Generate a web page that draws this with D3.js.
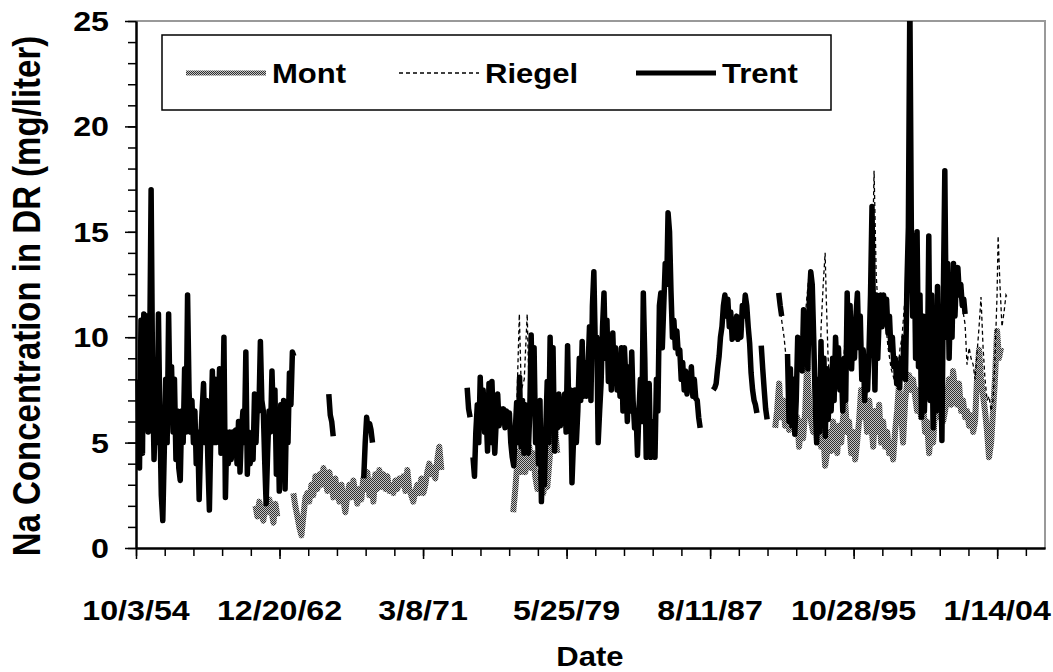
<!DOCTYPE html>
<html>
<head>
<meta charset="utf-8">
<script src="https://cdnjs.cloudflare.com/ajax/libs/d3/7.8.5/d3.min.js"></script>
<style>
  body { margin: 0; background: #fff; }
  text { font-family: "Liberation Sans", Arial, sans-serif; font-weight: bold; fill: #000; }
</style>
</head>
<body>
<svg width="1053" height="672"></svg>
<script>
// x axis tick labels (Excel date axis, 3000 day major unit)
var tickLabels = ["10/3/54", "12/20/62", "3/8/71", "5/25/79", "8/11/87", "10/28/95", "1/14/04"];
var yTicks = [0, 5, 10, 15, 20, 25];
var seriesNames = ["Mont", "Riegel", "Trent"];

// Mont and Riegel: [decimal year, Na mg/l], null = gap in record
var mont = [
  [1961.59,2.0],[1961.70,1.5],[1961.81,2.2],[1961.93,1.6],[1962.04,1.3],[1962.16,2.0],[1962.27,1.7],[1962.39,2.3],[1962.50,1.8],[1962.62,1.2],[1962.73,2.1],[1962.84,1.5],
  null,
  [1963.76,2.6],[1963.87,2.0],[1963.99,1.5],[1964.10,1.0],[1964.22,0.6],[1964.33,1.5],[1964.45,2.4],[1964.56,2.6],[1964.67,2.2],[1964.79,3.0],[1964.90,2.5],[1965.02,3.4],
  [1965.13,2.8],[1965.25,3.5],[1965.36,3.0],[1965.48,3.8],[1965.59,3.2],[1965.70,2.7],[1965.82,3.6],[1965.93,3.0],[1966.05,2.4],[1966.16,3.3],[1966.28,2.6],[1966.39,2.2],
  [1966.51,3.0],[1966.62,2.3],[1966.73,1.7],[1966.85,2.5],[1966.96,3.0],[1967.08,2.4],[1967.19,3.2],[1967.31,2.6],[1967.42,2.1],[1967.53,2.8],[1967.65,2.3],[1967.76,3.3],
  [1967.88,2.8],[1967.99,3.6],[1968.11,2.5],[1968.22,3.2],[1968.34,2.2],[1968.45,3.5],[1968.56,2.8],[1968.68,3.7],[1968.79,2.9],[1968.91,3.5],[1969.02,2.8],[1969.14,3.4],
  [1969.25,2.7],[1969.37,3.0],[1969.48,2.6],[1969.59,3.2],[1969.71,2.8],[1969.82,3.3],[1969.94,3.0],[1970.05,3.4],[1970.17,2.7],[1970.28,3.7],[1970.39,2.8],[1970.51,2.5],
  [1970.62,2.2],[1970.74,2.7],[1970.85,3.0],[1970.97,2.6],[1971.08,3.3],[1971.20,2.6],[1971.31,3.0],[1971.42,3.6],[1971.54,4.0],[1971.65,3.5],[1971.77,3.8],[1971.88,3.3],
  [1972.00,4.2],[1972.11,4.8],[1972.23,3.7],
  null,
  [1976.34,1.7],[1976.46,2.8],[1976.57,4.0],[1976.69,4.6],[1976.80,3.6],[1976.92,4.4],[1977.03,3.6],[1977.14,4.2],[1977.26,4.8],[1977.37,3.8],[1977.49,4.5],[1977.60,3.4],
  [1977.72,2.8],[1977.83,3.5],[1977.95,3.0],[1978.06,2.6],[1978.17,3.2],[1978.29,2.9],[1978.40,4.0],[1978.52,5.2],[1978.63,6.4],[1978.75,5.5],[1978.86,4.5],
  null,
  [1991.33,5.7],[1991.44,6.5],[1991.56,7.8],[1991.67,6.2],[1991.79,7.0],[1991.90,5.8],[1992.02,6.5],[1992.13,5.6],[1992.25,7.0],[1992.36,6.0],[1992.47,5.5],[1992.59,6.2],
  [1992.70,4.8],[1992.82,6.0],[1992.93,5.2],[1993.05,6.5],[1993.16,8.8],[1993.27,7.0],[1993.39,6.0],[1993.50,5.5],[1993.62,6.5],[1993.73,5.0],[1993.85,6.0],[1993.96,4.8],
  [1994.08,5.5],[1994.19,3.9],[1994.30,4.5],[1994.42,5.5],[1994.53,4.6],[1994.65,6.0],[1994.76,5.2],[1994.88,4.5],[1994.99,5.8],[1995.11,5.0],[1995.22,6.2],[1995.33,7.0],
  [1995.45,5.5],[1995.56,6.0],[1995.68,4.5],[1995.79,5.5],[1995.91,4.2],[1996.02,5.0],[1996.13,6.0],[1996.25,7.5],[1996.36,6.2],[1996.48,6.8],[1996.59,5.5],[1996.71,7.0],
  [1996.82,6.0],[1996.94,4.8],[1997.05,6.5],[1997.16,5.5],[1997.28,6.8],[1997.39,5.0],[1997.51,6.0],[1997.62,4.8],[1997.74,5.5],[1997.85,4.5],[1997.97,5.0],[1998.08,4.2],
  [1998.19,5.5],[1998.31,6.5],[1998.42,7.8],[1998.54,6.5],[1998.65,5.0],[1998.77,7.0],[1998.88,7.8],[1999.00,8.2],[1999.11,7.5],[1999.22,8.0],[1999.34,7.2],[1999.45,6.5],
  [1999.57,7.5],[1999.68,6.2],[1999.80,6.8],[1999.91,5.5],[2000.02,6.0],[2000.14,4.5],[2000.25,5.5],[2000.37,5.0],[2000.48,6.5],[2000.60,7.5],[2000.71,6.2],[2000.83,7.0],
  [2000.94,6.0],[2001.05,6.5],[2001.17,7.2],[2001.28,8.0],[2001.40,6.8],[2001.51,8.4],[2001.63,7.5],[2001.74,6.8],[2001.85,7.8],[2001.97,6.5],[2002.08,7.0],[2002.20,6.2],
  [2002.31,6.5],[2002.43,5.8],[2002.54,6.3],[2002.66,5.5],[2002.77,6.0],[2002.88,8.0],[2003.00,9.4],[2003.11,8.0],[2003.23,7.2],[2003.34,6.5],[2003.46,5.5],[2003.57,4.3],
  [2003.69,5.0],[2003.80,6.5],[2003.91,8.0],[2004.03,10.3],[2004.14,9.0],[2004.26,9.5]
];

var riegel = [
  [1976.34,4.5],[1976.52,6.0],[1976.69,11.1],[1976.80,7.5],[1976.97,8.0],[1977.14,11.1],[1977.26,7.0],[1977.43,9.0],[1977.66,6.0],[1977.83,3.0],
  null,
  [1991.50,11.8],[1991.67,11.0],[1991.84,10.0],[1991.96,9.0],[1992.07,8.6],[1992.19,7.0],[1992.36,6.0],[1992.53,7.5],[1992.70,9.0],[1992.87,10.0],[1993.05,11.0],[1993.16,12.0],
  [1993.27,13.0],[1993.39,12.0],[1993.50,10.5],[1993.68,8.0],[1993.85,7.0],[1993.96,10.5],[1994.08,12.5],[1994.19,14.0],[1994.25,12.0],[1994.36,9.0],[1994.53,7.0],[1994.70,9.5],
  [1994.88,9.0],[1995.05,7.5],[1995.22,8.5],[1995.45,11.5],[1995.62,10.0],[1995.79,9.0],[1996.02,11.5],[1996.19,9.5],[1996.36,8.0],[1996.54,7.5],[1996.71,9.5],[1996.88,13.0],
  [1996.99,17.9],[1997.11,13.0],[1997.28,10.5],[1997.45,11.5],[1997.62,11.0],[1997.79,9.5],[1997.97,8.5],[1998.14,8.0],[1998.31,8.0],[1998.48,9.5],[1998.59,10.0],[1998.77,12.0],
  [1999.05,14.5],[1999.28,13.5],[1999.51,10.0],[1999.74,8.0],[1999.97,9.5],[2000.20,11.0],[2000.42,8.0],[2000.65,10.0],[2000.88,8.0],[2001.11,14.0],[2001.34,11.0],[2001.57,12.5],
  [2001.80,12.5],[2002.03,11.5],[2002.20,10.6],[2002.31,8.7],[2002.43,9.5],[2002.54,9.0],[2002.66,8.7],[2002.77,8.0],[2002.88,9.2],[2003.00,10.5],[2003.11,11.9],[2003.23,9.5],
  [2003.34,8.0],[2003.46,7.0],[2003.57,7.2],[2003.69,6.5],[2003.80,7.0],[2003.91,9.0],[2004.03,12.0],[2004.09,14.8],[2004.20,12.4],[2004.31,10.5],[2004.43,11.2],[2004.54,12.0],
  [2004.66,11.8]
];

// Trent: monthly samples, one block per unbroken run of record
var trentRuns = [
  {start: "1954-11", values: [
    8.0,3.8,10.8,4.5,11.1,6.0, 11.0,5.5,9.0,17.0,8.0,4.2, 6.5,5.0,11.1,6.0,2.5,1.3, 4.5,8.0,5.0,11.1,6.5,8.6,
    5.5,8.0,4.2,6.5,3.8,3.2, 6.5,5.0,8.5,5.5,12.0,7.5, 5.5,7.0,5.0,6.5,4.0,5.5, 2.3,5.0,6.5,7.8,5.0,7.0,
    4.0,1.8,5.5,8.4,5.0,8.0, 5.0,5.8,8.5,4.5,6.0,10.0, 2.4,5.5,4.0,5.5,4.2,5.5, 4.5,5.6,4.0,6.0,3.6,5.5,
    6.5,5.0,9.3,3.5,5.5,4.0, 5.2,4.2,7.3,5.0,7.0,6.5, 9.8,7.0,6.5,4.0,2.1,4.5, 6.5,5.5,8.4,6.0,7.5,3.5,
    6.5,2.7,6.8,4.0,7.0,2.8, 6.5,5.0,8.3,6.8,9.3,9.1]},
  {start: "1965-10", values: [7.3,6.3,6.0,5.3]},
  {start: "1967-10", values: [3.3,5.0,6.2,5.6,5.9,5.6,5.0]},
  {start: "1973-09", values: [7.6,6.6,6.2]},
  {start: "1974-01", values: [
    4.3,3.4,5.5,6.8,5.0, 8.1,6.0,7.5,5.5,6.5, 4.6,7.8,5.0,7.9,6.0, 4.5,6.0,7.3,5.8,6.6,
    6.0,6.6,5.7,6.5,5.8, 6.4,5.0,4.3,3.9,5.5, 6.9,5.0,8.1,4.8,7.0, 4.5,6.8,5.5,4.5,6.4,
    10.1,6.5,9.5,5.0,6.0, 4.0,7.0,2.2,4.5,3.0, 5.5,7.9,5.0,10.0,6.0, 9.5,4.6,6.0,5.7,7.3,
    5.8,7.0,6.0,7.3,5.5, 9.6,6.0,7.5,3.1,5.0, 7.5,5.0,6.5,9.0,7.0, 9.8,7.2,8.8,7.2,8.5,
    10.5,7.0,11.5,13.1,9.5, 10.0,5.0,6.5,7.8,10.5, 12.1,9.0,10.8,7.9,9.5, 7.5,10.2,8.0,9.5,7.5,
    8.5,7.2,9.5,6.5,9.5, 8.0,6.0,8.6,6.5,9.3, 7.0,5.7,6.5,4.4,6.5, 8.0,6.0,12.1,9.0,4.3,
    6.5,7.8,4.3,6.0,5.5, 4.3,8.0,6.5,11.5,12.1, 9.5,11.5,13.5,12.5,15.9, 15.0,12.2,10.0,10.8,9.5,
    10.3,9.2,9.4,8.0,8.8, 7.5,8.4,7.3,8.2,7.6, 8.6,7.2,8.0,7.1,7.0, 6.2,5.7]},
  {start: "1987-10", values: [
    7.5,7.6,7.8,8.5,9.1, 10.0,10.5,11.5,12.0,11.0, 11.8,10.5,11.2,9.9,10.8, 10.0,11.0,9.9,10.5,10.0,
    11.5,11.0,12.0,11.5,10.5, 9.7,8.3,7.5,7.0,6.8, 6.4]},
  {start: "1990-07", values: [9.6,8.5,7.5,6.6,6.1]},
  {start: "1991-07", values: [12.1,11.5,11.0]},
  {start: "1992-01", values: [
    9.2,6.0,8.5,5.8,8.0, 5.4,7.0,10.0,8.5,9.5, 8.4,11.3,9.0,10.5,8.5, 11.8,13.1,12.5,10.0,7.0,
    5.0,8.0,5.5,9.8,6.0, 9.0,5.3,8.5,6.1,8.0, 6.5,9.0,7.0,10.0,8.5, 9.5,7.5,8.5,6.5,9.0,
    7.0,12.1,9.0,11.5,8.5, 10.5,9.0,11.0,12.1,9.5, 11.0,8.0,9.4,7.0,8.5, 7.5,9.5,12.0,16.2,11.0,
    7.5,12.0,9.0,11.0,12.0, 10.5,12.0,11.0,11.8,10.2, 11.0,9.4,10.0,8.6,9.0, 7.8,8.0,7.6,9.0,8.2,
    10.0,8.0,12.5,15.2,26.0, 15.2,11.0,14.8,9.0,15.0, 8.6,12.0,6.2,11.0,6.5, 9.5,8.0,14.8,7.0,12.0,
    5.7,10.0,6.5,12.4,7.0, 10.0,5.1,12.0,17.9,10.0, 13.5,9.0,12.0,10.0,13.5, 11.0,12.9,13.3,12.0,12.5,
    11.5,11.8,11.1]}
];

var svg = d3.select("svg");
var plotLeft = 136, plotRight = 1045, plotTop = 21, plotBottom = 548;
var SX = 1.15; // glyphs in the picture are a bit wider than tall

function parseMDY(s) {
  var p = s.split("/"), yy = +p[2];
  return new Date(yy < 30 ? 2000 + yy : 1900 + yy, +p[0] - 1, +p[1]);
}
function yearToDate(v) {
  var yr = Math.floor(v), a = new Date(yr, 0, 1), b = new Date(yr + 1, 0, 1);
  return new Date(+a + (v - yr) * (b - a));
}
function fromPairs(arr) {
  return arr.map(function(d) { return d === null ? null : {date: yearToDate(d[0]), value: d[1]}; });
}
function fromRuns(runs) {
  var out = [];
  runs.forEach(function(r, j) {
    var p = r.start.split("-"), yr = +p[0], mo = +p[1] - 1;
    if (j > 0) out.push(null);
    r.values.forEach(function(v, i) { out.push({date: new Date(yr, mo + i, 15), value: v}); });
  });
  return out;
}

var DAY = 864e5;
var start = parseMDY(tickLabels[0]);
var x = d3.scaleTime()
  .domain([start, new Date(+start + 19000 * DAY)])
  .range([plotLeft, plotRight]);
var y = d3.scaleLinear().domain([0, 25]).range([plotBottom, plotTop]);

var majorDates = tickLabels.map(parseMDY);
var minorDates = d3.range(0, 19001, 600).map(function(d) { return new Date(+start + d * DAY); });

var defs = svg.append("defs");
// pattern for the grey hatched Mont line
var pat = defs.append("pattern")
  .attr("id", "hatch").attr("width", 2).attr("height", 2)
  .attr("patternUnits", "userSpaceOnUse");
pat.append("rect").attr("width", 2).attr("height", 2).attr("fill", "#c4c4c4");
pat.append("rect").attr("width", 1).attr("height", 1).attr("fill", "#303030");
pat.append("rect").attr("x", 1).attr("y", 1).attr("width", 1).attr("height", 1).attr("fill", "#303030");

defs.append("clipPath").attr("id", "plotclip")
  .append("rect").attr("x", plotLeft - 4).attr("y", plotTop)
  .attr("width", plotRight - plotLeft + 4).attr("height", plotBottom - plotTop);

// plot area frame (top and right in grey)
svg.append("path")
  .attr("d", "M" + plotLeft + "," + plotTop + "H" + plotRight + "V" + plotBottom)
  .attr("fill", "none").attr("stroke", "#999").attr("stroke-width", 2);

var line = d3.line()
  .defined(function(d) { return d !== null; })
  .x(function(d) { return x(d.date); })
  .y(function(d) { return y(d.value); });

var plot = svg.append("g").attr("clip-path", "url(#plotclip)");

plot.append("path").datum(fromPairs(mont))
  .attr("d", line).attr("fill", "none")
  .attr("stroke", "url(#hatch)").attr("stroke-width", 6)
  .attr("stroke-linejoin", "round");

plot.append("path").datum(fromPairs(riegel))
  .attr("d", line).attr("fill", "none")
  .attr("stroke", "#000").attr("stroke-width", 1.3)
  .attr("stroke-dasharray", "4,3");

plot.append("path").datum(fromRuns(trentRuns))
  .attr("d", line).attr("fill", "none")
  .attr("stroke", "#000").attr("stroke-width", 5.5)
  .attr("stroke-linejoin", "round");

// axes
function styleAxis(g) {
  g.select(".domain").attr("stroke", "#000").attr("stroke-width", 2);
  g.selectAll(".tick line").attr("stroke", "#000").attr("stroke-width", 1.5);
}
svg.append("g").attr("transform", "translate(" + plotLeft + ",0)")
  .call(d3.axisLeft(y).tickValues(d3.range(0, 26, 1)).tickSize(8).tickSizeOuter(0).tickFormat(""))
  .call(styleAxis);
svg.append("g").attr("transform", "translate(" + plotLeft + ",0)")
  .call(d3.axisLeft(y).tickValues(yTicks).tickSize(11).tickSizeOuter(0).tickFormat(""))
  .call(styleAxis);
svg.append("g").attr("transform", "translate(0," + plotBottom + ")")
  .call(d3.axisBottom(x).tickValues(minorDates).tickSize(8).tickSizeOuter(0).tickFormat(""))
  .call(styleAxis);
svg.append("g").attr("transform", "translate(0," + plotBottom + ")")
  .call(d3.axisBottom(x).tickValues(majorDates).tickSize(11).tickSizeOuter(0).tickFormat(""))
  .call(styleAxis);

function label(txt, px, py, anchor, size, rot) {
  return svg.append("text")
    .attr("transform", "translate(" + px + "," + py + ")" +
      (rot ? " rotate(-90) scale(1," + SX + ")" : " scale(" + SX + ",1)"))
    .attr("text-anchor", anchor)
    .style("font-size", size + "px")
    .text(txt);
}

yTicks.forEach(function(v) { label(v, 109, y(v) + 10, "end", 28); });
majorDates.forEach(function(d, i) { label(tickLabels[i], x(d), 620, "middle", 28); });
label("Date", 590, 666, "middle", 27);
label("Na Concentration in DR (mg/liter)", 40, 296, "middle", 33, true);

// legend
svg.append("rect").attr("x", 162).attr("y", 35).attr("width", 669).attr("height", 75)
  .attr("fill", "#fff").attr("stroke", "#000").attr("stroke-width", 1.5);

var legendItems = [
  {name: seriesNames[0], x0: 186, stroke: "url(#hatch)", w: 5, dash: null},
  {name: seriesNames[1], x0: 399, stroke: "#000", w: 1.3, dash: "4,3"},
  {name: seriesNames[2], x0: 636, stroke: "#000", w: 5, dash: null}
];
legendItems.forEach(function(it) {
  svg.append("line").attr("x1", it.x0).attr("x2", it.x0 + 80).attr("y1", 73).attr("y2", 73)
    .attr("stroke", it.stroke).attr("stroke-width", it.w)
    .attr("stroke-dasharray", it.dash);
  label(it.name, it.x0 + 86, 83, "start", 27);
});
</script>
</body>
</html>
